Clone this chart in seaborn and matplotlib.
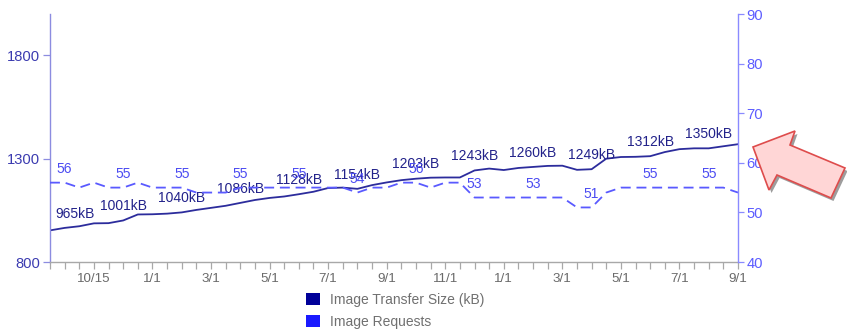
import numpy as np
import pandas as pd
import seaborn as sns
import matplotlib
matplotlib.use("Agg")
import matplotlib.pyplot as plt
from matplotlib.patches import Polygon, Patch

# Image transfer size (kB) per crawl run
transfer_size_kb = [
    953, 965, 973, 987, 988, 1001, 1030, 1031, 1034, 1040,
    1052, 1062, 1072, 1086, 1100, 1110, 1117, 1128, 1140, 1158,
    1160, 1154, 1172, 1185, 1196, 1203, 1208, 1209, 1209, 1243,
    1252, 1245, 1255, 1260, 1265, 1266, 1246, 1249, 1300, 1308,
    1309, 1312, 1332, 1346, 1350, 1350, 1360, 1370,
]

# Image requests per page per crawl run
image_requests = [
    56, 56, 55, 56, 55, 55, 56, 55, 55, 55,
    54, 54, 54, 55, 55, 55, 55, 55, 55, 55,
    55, 54, 55, 55, 56, 56, 55, 56, 56, 53,
    53, 53, 53, 53, 53, 53, 51, 51, 54, 55,
    55, 55, 55, 55, 55, 55, 55, 54,
]

# Date labels shown on every fourth run, starting with the fourth
date_labels = ["10/15", "1/1", "3/1", "5/1", "7/1", "9/1",
               "11/1", "1/1", "3/1", "5/1", "7/1", "9/1"]
date_label_start, date_label_step = 3, 4

# Value annotations appear on every fourth run, starting with the second
value_label_start, value_label_step = 1, 4

legend_labels = ["Image Transfer Size (kB)", "Image Requests"]

df = pd.DataFrame({
    "run": np.arange(len(transfer_size_kb)),
    "size": transfer_size_kb,
    "requests": image_requests,
})
n = len(df)

sns.set_theme(style="ticks")
plt.rcParams["font.family"] = ["Liberation Sans", "DejaVu Sans"]

W, H = 847, 336
fig = plt.figure(figsize=(W / 100, H / 100), dpi=100)
fig.patch.set_facecolor("white")

left_px, right_px, top_px, bottom_px = 50, 738, 14, 262
ax = fig.add_axes([left_px / W, 1 - bottom_px / H,
                   (right_px - left_px) / W, (bottom_px - top_px) / H])
ax2 = ax.twinx()

size_line_c = "#2c2c9c"
size_text_c = "#22228a"
req_line_c = "#5a5aff"
req_text_c = "#4b4bf2"

sns.lineplot(data=df, x="run", y="size", ax=ax, color=size_line_c,
             linewidth=1.3)
sns.lineplot(data=df, x="run", y="requests", ax=ax2, color=req_line_c,
             linewidth=1.3)
ax2.lines[0].set_linestyle((0, (5.5, 3.2)))

ax.set_xlim(0, n - 1)
ax.set_ylim(800, 2000)
ax2.set_ylim(40, 90)
for a in (ax, ax2):
    a.set_xlabel("")
    a.set_ylabel("")
    a.set_facecolor("none")

# x axis: a tick per run, dates on every fourth
labels = [""] * n
for k, lab in enumerate(date_labels):
    labels[date_label_start + k * date_label_step] = lab
ax.set_xticks(range(n))
ax.set_xticklabels(labels)
ax.tick_params(axis="x", bottom=True, length=5, width=0.9, color="#a8a8a8",
               labelcolor="#6a6a6a", labelsize=9.6, pad=3)

# left axis
ax.set_yticks([800, 1300, 1800])
ax.tick_params(axis="y", left=True, length=5, width=0.9, color="#8c8ce0",
               labelcolor="#3b3bb0", labelsize=10.6, pad=2)
ax.spines["left"].set_color("#8c8ce0")
ax.spines["left"].set_linewidth(1.0)
ax.spines["bottom"].set_color("#a8a8a8")
ax.spines["bottom"].set_linewidth(1.0)
ax.spines["top"].set_visible(False)
ax.spines["right"].set_visible(False)

# right axis
ax2.set_yticks([40, 50, 60, 70, 80, 90])
ax2.tick_params(axis="y", right=True, length=4, width=0.9, color="#8a8aff",
                labelcolor="#5c5cff", labelsize=10.6, pad=2)
for s in ("top", "left", "bottom"):
    ax2.spines[s].set_visible(False)
ax2.spines["right"].set_color("#8a8aff")
ax2.spines["right"].set_linewidth(1.0)

# value annotations
for i in range(value_label_start, n, value_label_step):
    dx = 7.5 if i == value_label_start else 0
    ax.annotate(f"{transfer_size_kb[i]}kB", (i, transfer_size_kb[i]),
                xytext=(dx, 10.3), textcoords="offset points",
                ha="center", va="center", fontsize=10, color=size_text_c,
                zorder=6)
    ax2.annotate(f"{image_requests[i]}", (i, image_requests[i]),
                 xytext=(0, 9.6), textcoords="offset points",
                 ha="center", va="center", fontsize=10, color=req_text_c,
                 zorder=6)

# legend below the chart
handles = [Patch(facecolor="#000099", edgecolor="none", label=legend_labels[0]),
           Patch(facecolor="#1a1aff", edgecolor="none", label=legend_labels[1])]
fig.legend(handles=handles, loc="upper left",
           bbox_to_anchor=(306 / W, 1 - 293 / H), frameon=False,
           handlelength=1.0, handleheight=1.0, handletextpad=0.7,
           labelspacing=0.55, fontsize=10, labelcolor="#707070",
           borderpad=0, borderaxespad=0)

# callout arrow pointing at the latest value
arrow_px = [(753, 147), (795, 131), (790, 145), (845, 168),
            (831, 198), (777, 175), (769, 190)]


def to_fig(pts, dx=0.0, dy=0.0):
    return [((x + dx) / W, 1 - (y + dy) / H) for x, y in pts]


fig.add_artist(Polygon(to_fig(arrow_px, 2.5, 3), closed=True,
                       transform=fig.transFigure, facecolor="#8c8c8c",
                       edgecolor="none", alpha=0.85, zorder=8))
fig.add_artist(Polygon(to_fig(arrow_px), closed=True,
                       transform=fig.transFigure, facecolor="#ffd6d6",
                       edgecolor="#de4c4c", linewidth=1.2, zorder=9,
                       joinstyle="miter"))

fig.savefig("out.png", dpi=100, facecolor="white")
